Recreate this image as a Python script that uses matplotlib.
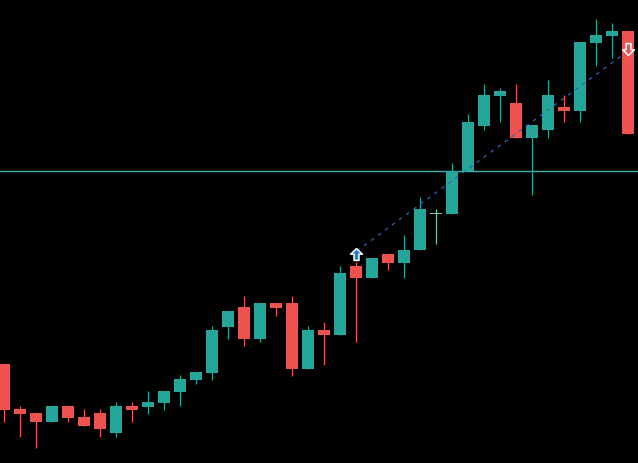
import matplotlib
matplotlib.use("Agg")
import matplotlib.pyplot as plt
import numpy as np
from matplotlib.path import Path

# OHLC data (price units)
opens  = [99, 54, 50, 41, 57, 46, 50, 30, 57, 56, 60, 71, 83, 90, 136, 156, 124, 160, 160, 94,
          133, 128, 197, 185, 209, 200, 213, 250, 249, 292, 337, 367, 360, 325, 333, 356, 352, 420, 427, 432]
highs  = [99, 57, 50, 57, 57, 54, 54, 61, 61, 72, 72, 88, 91, 137, 152, 167, 160, 160, 167, 137,
          141, 197, 201, 205, 209, 228, 266, 254, 300, 349, 379, 375, 379, 338, 383, 368, 421, 444, 440, 432]
lows   = [41, 26, 15, 41, 41, 37, 26, 26, 41, 49, 53, 57, 79, 83, 124, 117, 121, 147, 87, 94,
          98, 128, 121, 185, 193, 185, 213, 219, 249, 292, 333, 341, 325, 268, 325, 341, 341, 397, 405, 329]
closes = [53, 49, 41, 57, 45, 37, 34, 57, 53, 61, 72, 84, 91, 133, 152, 124, 160, 155, 94, 133,
          128, 190, 185, 205, 200, 213, 254, 250, 292, 341, 368, 372, 325, 338, 368, 352, 421, 428, 432, 329]

level_price = 292
signal_buy = (22, 209)
signal_sell = (39, 414)

GREEN = "#26a69a"
RED = "#ef5350"
DOJI = "#7fc4a4"

fig = plt.figure(figsize=(6.38, 4.64), dpi=100)
fig.patch.set_facecolor("black")
ax = fig.add_axes([0, 0, 1, 1])
ax.set_facecolor("black")
ax.set_xlim(-0.25, 39.625)
ax.set_ylim(0, 464)
ax.axis("off")

n = len(opens)
x = np.arange(n)
o = np.array(opens); c = np.array(closes); h = np.array(highs); l = np.array(lows)
colors = [GREEN if cc > oo else (RED if cc < oo else DOJI) for oo, cc in zip(o, c)]

# horizontal level
ax.axhline(level_price, color="#3fb0aa", lw=1.0, zorder=1)

# wicks
ax.vlines(x, l, h, colors=colors, lw=0.9, zorder=2)
# bodies
bottoms = np.minimum(o, c)
heights = np.maximum(np.abs(c - o), 1.0)
ax.bar(x, heights, bottom=bottoms - np.where(np.abs(c - o) == 0, 0.5, 0), width=0.69,
       color=colors, linewidth=0, zorder=3)

# dashed trend line between signals
ax.plot([signal_buy[0] + 0.05, signal_sell[0]], [signal_buy[1] + 3, signal_sell[1] - 2],
        color="#2f62b0", lw=0.9, ls=(0, (3, 4)), zorder=4)

# arrow markers
up_verts = [(0, 1), (1, 0.05), (0.42, 0.05), (0.42, -1), (-0.42, -1), (-0.42, 0.05), (-1, 0.05), (0, 1)]
up_codes = [Path.MOVETO] + [Path.LINETO] * 6 + [Path.CLOSEPOLY]
up_path = Path(up_verts, up_codes)
down_path = Path([(vx, -vy) for vx, vy in up_verts], up_codes)

ax.plot(*signal_buy, marker=up_path, ms=8.5, mfc="#1e7fd8", mec="white", mew=1.1, zorder=5)
ax.plot(*signal_sell, marker=down_path, ms=8.5, mfc=RED, mec="white", mew=1.1, zorder=5)

fig.savefig("out.png", dpi=100, facecolor="black")
